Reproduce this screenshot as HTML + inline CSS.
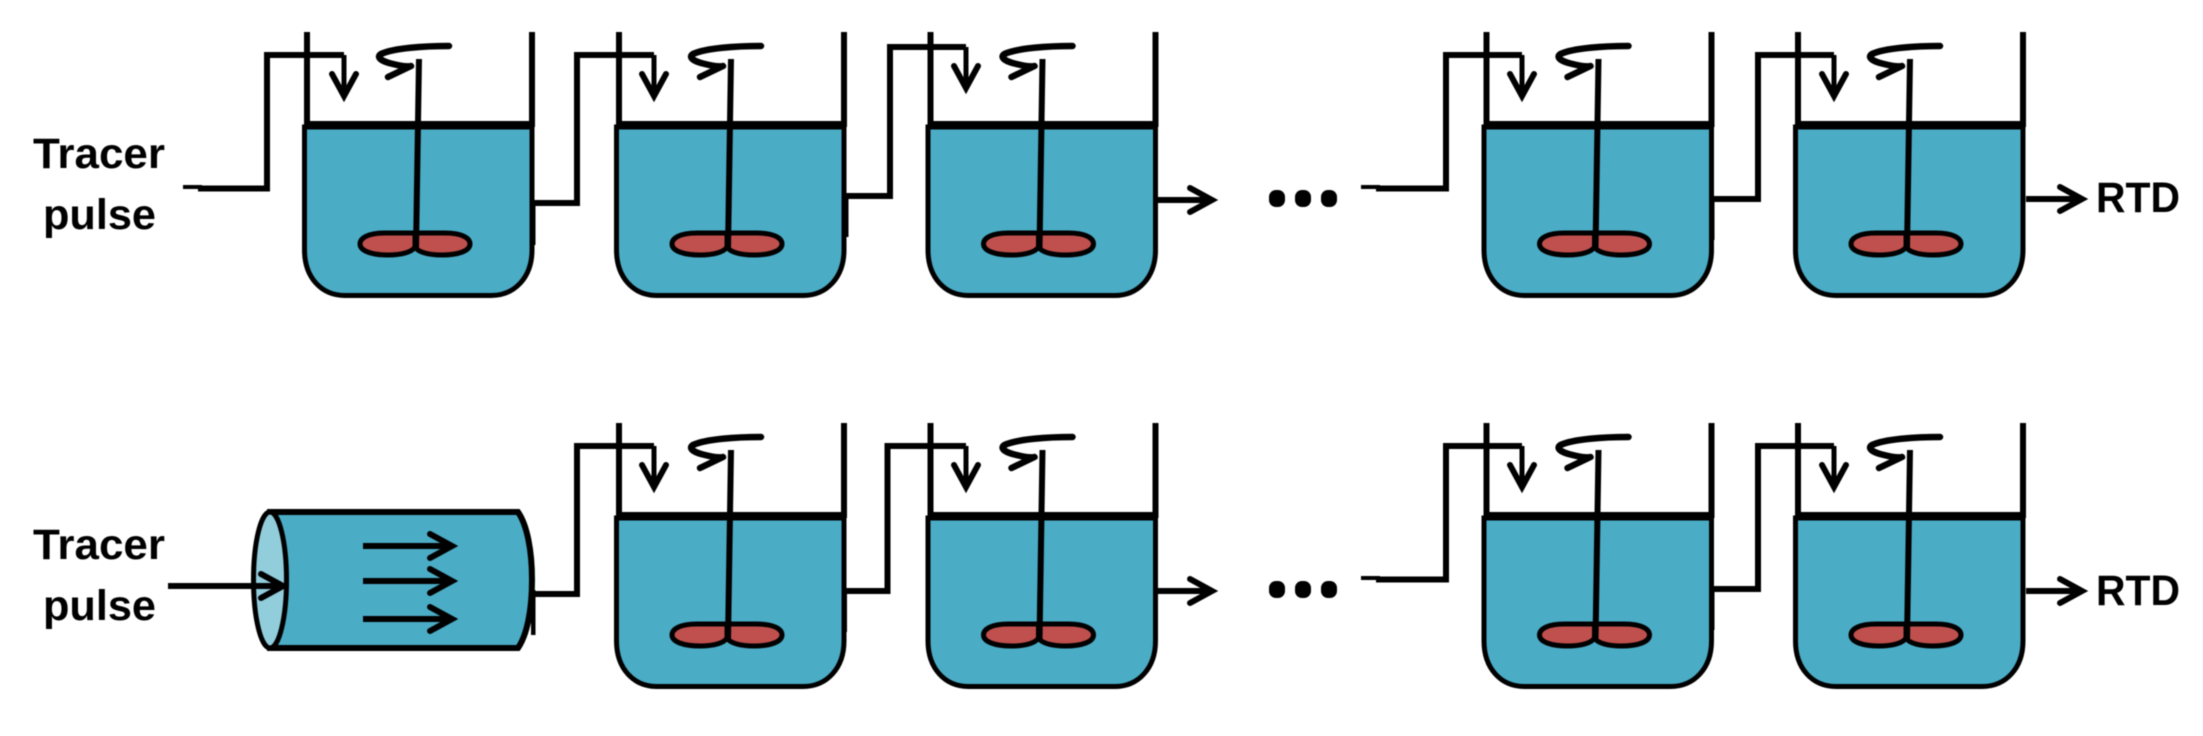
<!DOCTYPE html>
<html>
<head>
<meta charset="utf-8">
<style>
html,body{margin:0;padding:0;background:#fff;width:2203px;height:736px;overflow:hidden}
svg{display:block;filter:blur(.45px)}
text{font-family:"Liberation Sans",sans-serif;font-weight:bold;font-size:43px;fill:#000}
.l{fill:none;stroke:#000;stroke-width:6;stroke-linejoin:miter}
.a{fill:none;stroke:#000;stroke-width:6;stroke-linecap:round;stroke-linejoin:miter}
</style>
</head>
<body>
<svg xmlns="http://www.w3.org/2000/svg" width="2203" height="736" viewBox="0 0 2203 736">
<defs>
<g id="tank">
  <path d="M304.5 127 V250 C304.5 277 321 295.5 345 295.5 H491 C515 295.5 532 277 532 250 V127 Z" fill="#4BACC6" stroke="#000" stroke-width="5"/>
  <path d="M307 32 V124 H532 V32" class="l"/>
  <path d="M305 124 H535" class="l"/>
  <path d="M415 233 H385 C368 233 360 238 360 244 C360 251 372 255 388 255 C402 255 412 252 415 247 Z" fill="#C0504D" stroke="#000" stroke-width="5" stroke-linejoin="round"/>
  <path d="M415 233 H445 C462 233 470 238 470 244 C470 251 458 255 442 255 C428 255 418 252 415 247 Z" fill="#C0504D" stroke="#000" stroke-width="5" stroke-linejoin="round"/>
  <path d="M419 59 L416 249" fill="none" stroke="#000" stroke-width="6"/>
  <path d="M449 46 C424 46 394 48 381 54 C375 58 384 62 393 64 C401 66 407 67 411 66 L388 77" fill="none" stroke="#000" stroke-width="6.5" stroke-linecap="round" stroke-linejoin="round"/>
</g>
<g id="head"><path d="M-12 -24 L0 -2 L12 -24" fill="none" stroke="#000" stroke-width="6" stroke-linecap="round"/></g>
<g id="rhead"><path d="M-24 -12 L-2 0 L-24 12" fill="none" stroke="#000" stroke-width="6" stroke-linecap="round"/></g>
</defs>

<!-- Row 1 tanks -->
<use href="#tank" x="0" y="0"/>
<use href="#tank" x="312" y="0"/>
<use href="#tank" x="623.5" y="0"/>
<use href="#tank" x="1179.5" y="0"/>
<use href="#tank" x="1491" y="0"/>

<!-- Row 2 tanks -->
<use href="#tank" x="312" y="391"/>
<use href="#tank" x="623.5" y="391"/>
<use href="#tank" x="1179.5" y="391"/>
<use href="#tank" x="1491" y="391"/>

<!-- Row 1 pipes -->
<path d="M183 187 H202" fill="none" stroke="#000" stroke-width="4"/>
<path d="M198 188.5 H267 V55 H344" class="l"/>
<path d="M344 55 V96" fill="none" stroke="#000" stroke-width="5"/>
<use href="#head" x="344" y="98"/>

<path d="M533 203 H577 V55 H654" class="l"/>
<path d="M654 55 V96" fill="none" stroke="#000" stroke-width="5"/>
<use href="#head" x="654" y="98"/>
<rect x="532" y="203" width="3.5" height="42"/>

<path d="M845 196 H890 V47 H966" class="l"/>
<path d="M966 47 V88" fill="none" stroke="#000" stroke-width="5"/>
<use href="#head" x="966" y="90"/>
<rect x="845" y="196" width="3.5" height="41"/>

<path d="M1158 200 H1212" fill="none" stroke="#000" stroke-width="6"/>
<use href="#rhead" x="1214" y="200"/>

<path d="M1361 187 H1380" fill="none" stroke="#000" stroke-width="4"/>
<path d="M1376 188.5 H1446 V55 H1522" class="l"/>
<path d="M1522 55 V96" fill="none" stroke="#000" stroke-width="5"/>
<use href="#head" x="1522" y="98"/>

<path d="M1712 199 H1758 V55 H1834" class="l"/>
<path d="M1834 55 V96" fill="none" stroke="#000" stroke-width="5"/>
<use href="#head" x="1834" y="98"/>
<rect x="1711" y="199" width="3.5" height="41"/>

<path d="M2026 199 H2082" fill="none" stroke="#000" stroke-width="6"/>
<use href="#rhead" x="2084" y="199"/>

<!-- Row 1 dots -->
<rect x="1269" y="190" width="16" height="17" rx="7"/>
<rect x="1295" y="190" width="16" height="17" rx="7"/>
<rect x="1321" y="190" width="16" height="17" rx="7"/>

<!-- PFR -->
<path d="M270 512 H518 C527 525 532 550 532 580 C532 610 527 635 518 648 H270 Z" fill="#4BACC6" stroke="#000" stroke-width="6"/>
<ellipse cx="270" cy="580" rx="16.5" ry="68" fill="#92CDDC" stroke="#000" stroke-width="5"/>
<path d="M168 586 H283" fill="none" stroke="#000" stroke-width="6"/>
<use href="#rhead" x="285" y="586"/>
<path d="M363 546 H452" fill="none" stroke="#000" stroke-width="6"/>
<use href="#rhead" x="454" y="546"/>
<path d="M363 581 H452" fill="none" stroke="#000" stroke-width="6"/>
<use href="#rhead" x="454" y="581"/>
<path d="M363 619 H452" fill="none" stroke="#000" stroke-width="6"/>
<use href="#rhead" x="454" y="619"/>
<rect x="531" y="590" width="4.5" height="45"/>

<!-- Row 2 pipes -->
<path d="M534 594 H577 V446 H654" class="l"/>
<path d="M654 446 V487" fill="none" stroke="#000" stroke-width="5"/>
<use href="#head" x="654" y="489"/>

<path d="M845 591 H887.5 V446 H966" class="l"/>
<path d="M966 446 V487" fill="none" stroke="#000" stroke-width="5"/>
<use href="#head" x="966" y="489"/>
<rect x="842.5" y="590" width="4.5" height="42"/>

<path d="M1158 591 H1212" fill="none" stroke="#000" stroke-width="6"/>
<use href="#rhead" x="1214" y="591"/>

<path d="M1361 578 H1380" fill="none" stroke="#000" stroke-width="4"/>
<path d="M1376 579.5 H1446 V446 H1522" class="l"/>
<path d="M1522 446 V487" fill="none" stroke="#000" stroke-width="5"/>
<use href="#head" x="1522" y="489"/>

<path d="M1712 589 H1758 V446 H1834" class="l"/>
<path d="M1834 446 V487" fill="none" stroke="#000" stroke-width="5"/>
<use href="#head" x="1834" y="489"/>
<rect x="1711" y="589" width="3.5" height="41"/>

<path d="M2026 591 H2082" fill="none" stroke="#000" stroke-width="6"/>
<use href="#rhead" x="2084" y="591"/>

<!-- Row 2 dots -->
<rect x="1269" y="581" width="16" height="17" rx="7"/>
<rect x="1295" y="581" width="16" height="17" rx="7"/>
<rect x="1321" y="581" width="16" height="17" rx="7"/>

<!-- Labels -->
<text x="33" y="168" textLength="132" lengthAdjust="spacingAndGlyphs">Tracer</text>
<text x="43" y="229" textLength="113" lengthAdjust="spacingAndGlyphs">pulse</text>
<text x="33" y="559" textLength="132" lengthAdjust="spacingAndGlyphs">Tracer</text>
<text x="43" y="620" textLength="113" lengthAdjust="spacingAndGlyphs">pulse</text>
<text x="2096" y="212" textLength="84" lengthAdjust="spacingAndGlyphs">RTD</text>
<text x="2096" y="605" textLength="84" lengthAdjust="spacingAndGlyphs">RTD</text>
</svg>
</body>
</html>
